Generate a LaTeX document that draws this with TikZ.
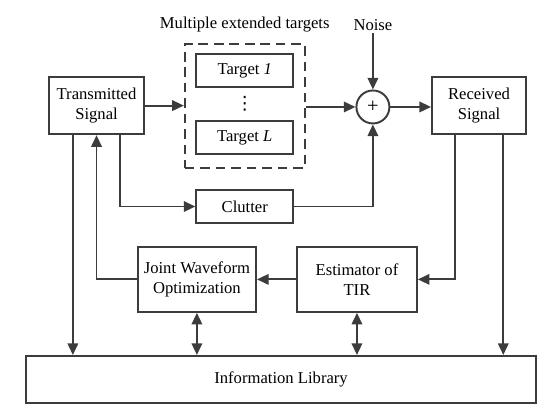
\documentclass[tikz,border=0pt]{standalone}
\usepackage{fontspec}
\setmainfont{Liberation Serif}
\newfontfamily\dotsfont{DejaVu Sans}
\usetikzlibrary{arrows.meta}
\definecolor{linegray}{RGB}{60,60,60}
\tikzset{
  block/.style={draw=linegray, line width=1pt, align=center, inner sep=0pt,
    font=\fontsize{8.6}{10.4}\selectfont},
  link/.style={draw=linegray, line width=1pt, -{Triangle[length=6pt,width=5.4pt]}},
  twoway/.style={link, {Triangle[length=6pt,width=5.4pt]}-{Triangle[length=6pt,width=5.4pt]}},
  label/.style={font=\fontsize{8.6}{10.4}\selectfont, inner sep=1pt}
}
\begin{document}
\begin{tikzpicture}
        \useasboundingbox (0,0) rectangle (10,7.6);

        % top row
        \node[block, minimum width=1.73cm, minimum height=1.04cm] (ts) at (1.755, 5.68) {Transmitted\\Signal};
        \node[block, dash pattern=on 5pt off 3pt, minimum width=2.18cm, minimum height=2.25cm] (targets) at (4.45, 5.67) {};
        \node[block, minimum width=1.76cm, minimum height=0.6cm] (tgtone) at (4.45, 6.32) {Target \textit{1}};
        \node[label, font=\dotsfont\fontsize{9.5}{10}\selectfont, inner sep=0pt] (dots) at (4.45, 5.71) {⋮};
        \node[block, minimum width=1.76cm, minimum height=0.6cm] (tgtlast) at (4.45, 5.10) {Target \textit{L}};
        \node[label] (multi) at (4.45, 7.15) {Multiple extended targets};
        \node[label] (noise) at (6.78, 7.15) {Noise};
        \node[block, circle, minimum size=0.6cm, font=\fontsize{10.5}{12}\selectfont] (sum) at (6.78, 5.655) {+};
        \node[block, minimum width=1.71cm, minimum height=1.04cm] (rs) at (8.71, 5.68) {Received\\Signal};

        % middle
        \node[block, minimum width=1.76cm, minimum height=0.6cm] (clutter) at (4.45, 3.845) {Clutter};
        \node[block, minimum width=2.15cm, minimum height=1.18cm] (jwo) at (3.58, 2.52) {Joint Waveform\\Optimization};
        \node[block, minimum width=2.18cm, minimum height=1.18cm] (est) at (6.49, 2.52) {Estimator of\\TIR};

        % bottom
        \node[block, minimum width=9.27cm, minimum height=0.855cm] (lib) at (5.11, 0.70) {Information Library};

        % connectors
        \draw[link] (ts.east) -- (ts.east -| targets.west);
        \draw[link] (sum.west -| targets.east) -- (sum.west);
        \draw[link] (noise) -- (sum);
        \draw[link] (sum.east) -- (sum.east -| rs.west);
        \draw[link] ([xshift=0.43cm]ts.south) |- (clutter.west);
        \draw[link] (clutter.east) -| (sum.south);
        \draw[link] (jwo.west) -| (ts.south);
        \draw[link] ([xshift=-0.44cm]rs.south) |- (est.east);
        \draw[link] (est.west) -- (jwo.east);
        \draw[link] ([xshift=-0.43cm]ts.south) -- ([xshift=-0.43cm]ts.south |- lib.north);
        \draw[link] ([xshift=0.44cm]rs.south) -- ([xshift=0.44cm]rs.south |- lib.north);
        \draw[twoway] (jwo.south) -- (jwo.south |- lib.north);
        \draw[twoway] (est.south) -- (est.south |- lib.north);
    \end{tikzpicture}
\end{document}
